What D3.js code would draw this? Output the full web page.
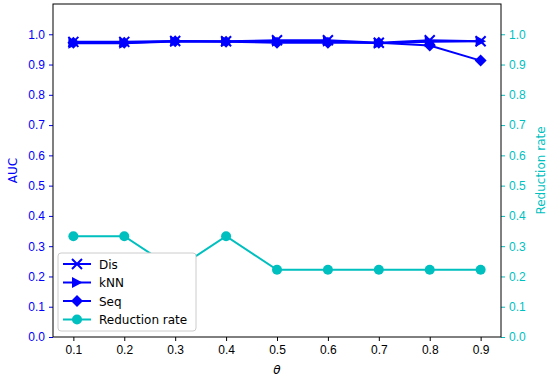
<!DOCTYPE html>
<html><head><meta charset="utf-8">
<script src="https://cdn.jsdelivr.net/npm/d3@7"></script>
<style>body{margin:0;background:#fff}svg{font-family:"DejaVu Sans",sans-serif}</style>
</head><body><svg id="c" width="550" height="380"></svg>
<script>
const thetas = [0.1,0.2,0.3,0.4,0.5,0.6,0.7,0.8,0.9];
const dis = [0.975,0.975,0.978,0.977,0.980,0.980,0.972,0.980,0.977];
const knn = [0.970,0.970,0.976,0.976,0.977,0.977,0.970,0.975,0.977];
const seq = [0.972,0.972,0.977,0.975,0.972,0.972,0.972,0.963,0.913];
const reduction = [0.333,0.333,0.222,0.333,0.222,0.222,0.222,0.222,0.222];
const yTicks = [0,0.1,0.2,0.3,0.4,0.5,0.6,0.7,0.8,0.9,1.0];
const xTicks = thetas;

const svg = d3.select("#c");
const L=53, R=501, T=4, B=337;
const BLUE="#0000ff", CYAN="#00bfbf";
const FS=12;
const x = d3.scaleLinear().domain([0.06,0.94]).range([L,R]);
const y = d3.scaleLinear().domain([0,1.1]).range([B,T]);
const y2 = d3.scaleLinear().domain([0,1.1]).range([B,T]);

const xa = svg.append("g").attr("transform",`translate(0,${B})`)
  .call(d3.axisBottom(x).tickValues(xTicks).tickFormat(d3.format(".1f")).tickSize(4).tickPadding(4));
xa.selectAll("text").attr("font-size",FS).attr("fill","#000");
const ya = svg.append("g").attr("transform",`translate(${L},0)`)
  .call(d3.axisLeft(y).tickValues(yTicks).tickFormat(d3.format(".1f")).tickSize(4).tickPadding(4));
ya.selectAll("text").attr("font-size",FS).attr("fill",BLUE);
ya.selectAll("line").attr("stroke",BLUE);
const y2a = svg.append("g").attr("transform",`translate(${R},0)`)
  .call(d3.axisRight(y2).tickValues(yTicks).tickFormat(d3.format(".1f")).tickSize(4).tickPadding(4));
y2a.selectAll("text").attr("font-size",FS).attr("fill",CYAN);
y2a.selectAll("line").attr("stroke",CYAN);
[xa,ya,y2a].forEach(a=>a.select(".domain").remove());

svg.append("text").attr("x",(L+R)/2).attr("y",374).attr("text-anchor","middle")
  .attr("font-size",FS).attr("font-style","italic").text("θ");
svg.append("text").attr("transform",`translate(17,${(T+B)/2}) rotate(-90)`).attr("text-anchor","middle")
  .attr("font-size",FS).attr("fill",BLUE).text("AUC");
svg.append("text").attr("transform",`translate(545,${(T+B)/2}) rotate(-90)`).attr("text-anchor","middle")
  .attr("font-size",FS).attr("fill",CYAN).text("Reduction rate");

function marker(g, type, color, cx, cy){
  const s=5;
  if(type==="x"){
    g.append("path").attr("d",`M${cx-s},${cy-s}L${cx+s},${cy+s}M${cx-s},${cy+s}L${cx+s},${cy-s}`)
      .attr("stroke",color).attr("stroke-width",2);
  } else if(type===">"){
    g.append("path").attr("d",`M${cx+5.5},${cy}L${cx-5},${cy-5.5}L${cx-5},${cy+5.5}Z`).attr("fill",color);
  } else if(type==="D"){
    const d=6;
    g.append("path").attr("d",`M${cx},${cy-d}L${cx+d},${cy}L${cx},${cy+d}L${cx-d},${cy}Z`).attr("fill",color);
  } else {
    g.append("circle").attr("cx",cx).attr("cy",cy).attr("r",5).attr("fill",color);
  }
}
const series = [
  {name:"Dis", vals:dis, m:"x", c:BLUE, s:y},
  {name:"kNN", vals:knn, m:">", c:BLUE, s:y},
  {name:"Seq", vals:seq, m:"D", c:BLUE, s:y},
  {name:"Reduction rate", vals:reduction, m:"o", c:CYAN, s:y2}
];
series.forEach(sr=>{
  const g = svg.append("g");
  const line = d3.line().x((d,i)=>x(thetas[i])).y(d=>sr.s(d));
  g.append("path").datum(sr.vals).attr("d",line).attr("fill","none").attr("stroke",sr.c).attr("stroke-width",2);
  sr.vals.forEach((v,i)=>marker(g,sr.m,sr.c,x(thetas[i]),sr.s(v)));
});
svg.append("rect").attr("x",L).attr("y",T).attr("width",R-L).attr("height",B-T)
  .attr("fill","none").attr("stroke","#000").attr("stroke-width",1);

const lg = svg.append("g");
lg.append("rect").attr("x",58).attr("y",253).attr("width",138).attr("height",78).attr("rx",3)
  .attr("fill","#fff").attr("stroke","#ccc");
series.forEach((sr,i)=>{
  const yy = 264 + i*18.5;
  lg.append("line").attr("x1",63).attr("x2",91).attr("y1",yy).attr("y2",yy).attr("stroke",sr.c).attr("stroke-width",2);
  marker(lg,sr.m,sr.c,77,yy);
  lg.append("text").attr("x",99).attr("y",yy+4.5).attr("font-size",FS).text(sr.name);
});
</script></body></html>
